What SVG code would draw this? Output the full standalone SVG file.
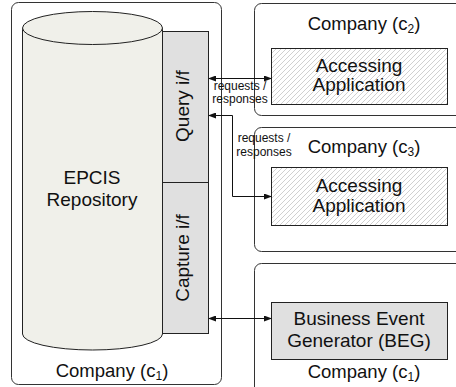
<svg xmlns="http://www.w3.org/2000/svg" width="456" height="387" viewBox="0 0 456 387">
<style>
text{font-family:"Liberation Sans",Arial,sans-serif;fill:#111;text-anchor:middle}
.cont{fill:#fff;stroke:#333;stroke-width:1}
.big{font-size:19px}
.mid{font-size:18.5px}
.sm{font-size:12px}
.iface{fill:#e0e0e0;stroke:#222;stroke-width:1}
.conn{fill:none;stroke:#111;stroke-width:1}
</style>
<defs>
<pattern id="hatch" patternUnits="userSpaceOnUse" width="5" height="5">
<path d="M-1,1 L1,-1 M0,5 L5,0 M4,6 L6,4" stroke="#c4c4c4" stroke-width="0.8"/>
</pattern>
<marker id="ah" markerWidth="8" markerHeight="6" refX="7" refY="3" orient="auto-start-reverse" markerUnits="userSpaceOnUse">
<path d="M0,0 L8,3 L0,6 Z" fill="#111"/>
</marker>
</defs>
<g id="company-c1-left">
<rect class="cont" x="11.5" y="2.5" width="210" height="382" rx="7"/>
<text class="mid" x="112" y="377">Company (c<tspan font-size="12" dy="3">1</tspan><tspan dy="-3">)</tspan></text>
</g>
<g id="epcis-repository">
<path d="M22.5,28 L22.5,334 A70,16 0 0 0 162.5,334 L162.5,28" fill="#f0f0ea" stroke="#222"/>
<ellipse cx="92.5" cy="28" rx="70" ry="16.5" fill="#f0f0ea" stroke="#222"/>
<text class="big" x="92" y="184">EPCIS</text>
<text class="big" x="92" y="206">Repository</text>
</g>
<g id="query-if">
<rect class="iface" x="162.5" y="31.5" width="46" height="151"/>
<text class="big" transform="translate(189,106) rotate(-90)">Query i/f</text>
</g>
<g id="capture-if">
<rect class="iface" x="162.5" y="182.5" width="46" height="151"/>
<text class="big" transform="translate(189,258) rotate(-90)">Capture i/f</text>
</g>
<g id="company-c2">
<rect class="cont" x="254.5" y="3.5" width="220" height="112" rx="7"/>
<text class="mid" x="364" y="30">Company (c<tspan font-size="12" dy="3">2</tspan><tspan dy="-3">)</tspan></text>
</g>
<g id="accessing-app-c2">
<rect x="271.5" y="48.5" width="176" height="56" fill="url(#hatch)" stroke="#222"/>
<text class="big" x="359" y="72">Accessing</text>
<text class="big" x="359" y="91">Application</text>
</g>
<g id="company-c3">
<rect class="cont" x="254.5" y="127.5" width="220" height="124" rx="7"/>
<text class="mid" x="364" y="153">Company (c<tspan font-size="12" dy="3">3</tspan><tspan dy="-3">)</tspan></text>
</g>
<g id="accessing-app-c3">
<rect x="271.5" y="167.5" width="176" height="58" fill="url(#hatch)" stroke="#222"/>
<text class="big" x="359" y="192">Accessing</text>
<text class="big" x="359" y="212">Application</text>
</g>
<g id="company-c1-right">
<rect class="cont" x="254.5" y="263.5" width="220" height="140" rx="7"/>
<text class="mid" x="364" y="378">Company (c<tspan font-size="12" dy="3">1</tspan><tspan dy="-3">)</tspan></text>
</g>
<g id="beg">
<rect class="iface" x="271.5" y="302.5" width="176" height="57"/>
<text class="big" x="359" y="325">Business Event</text>
<text class="big" x="359" y="347">Generator (BEG)</text>
</g>
<g id="connectors">
<path class="conn" d="M209,78.5 L271,78.5" marker-start="url(#ah)" marker-end="url(#ah)"/>
<path class="conn" d="M209,115.5 L232.5,115.5 L232.5,196.5 L271,196.5" marker-start="url(#ah)" marker-end="url(#ah)"/>
<path class="conn" d="M209,318.5 L271,318.5" marker-start="url(#ah)" marker-end="url(#ah)"/>
<text class="sm" x="240" y="90">requests /</text>
<text class="sm" x="240" y="103">responses</text>
<text class="sm" x="264" y="142">requests /</text>
<text class="sm" x="264" y="156">responses</text>
</g>
</svg>
